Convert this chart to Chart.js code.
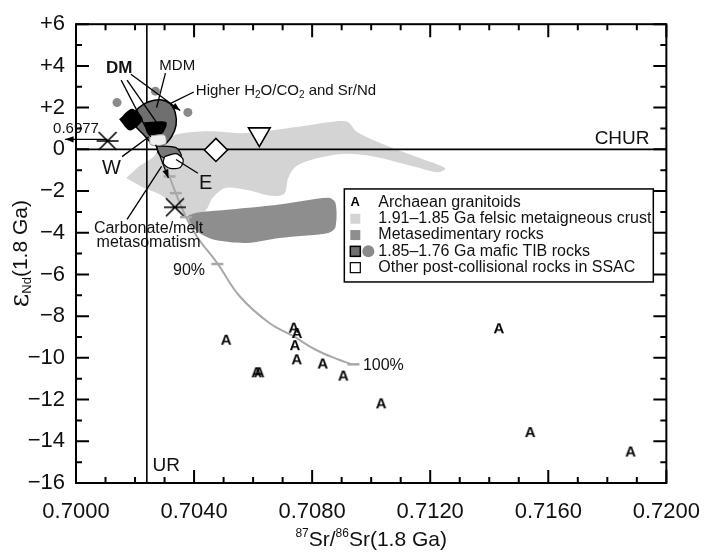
<!DOCTYPE html>
<html>
<head>
<meta charset="utf-8">
<script src="https://cdn.jsdelivr.net/npm/chart.js@4.4.1/dist/chart.umd.min.js"></script>
<style>
html, body { margin: 0; padding: 0; background: #fff; }
</style>
</head>
<body>
<canvas id="myChart" width="716" height="555"></canvas>
<script>
// Axis ticks
let xTicks = [0.7000, 0.7040, 0.7080, 0.7120, 0.7160, 0.7200];
let yTicks = [6, 4, 2, 0, -2, -4, -6, -8, -10, -12, -14, -16];

// Archaean granitoids (A)
let archSr = [0.70509, 0.70738, 0.70749, 0.70742, 0.70748, 0.70612, 0.70621, 0.70836, 0.70906, 0.71034, 0.71433, 0.71539, 0.71879];
let archNd = [-9.13, -8.55, -8.81, -9.39, -10.07, -10.69, -10.69, -10.27, -10.85, -12.18, -8.58, -13.56, -14.49];

// 1.85-1.76 Ga mafic TIB rocks (circles)
let maficSr = [0.70139, 0.70269, 0.70379];
let maficNd = [2.24, 2.79, 1.77];

// crosses, diamond, triangle
let crossSr = [0.70107, 0.70335];
let crossNd = [0.40, -2.78];
let diamondSr = [0.70474];
let diamondNd = [-0.03];
let triSr = [0.70621];
let triNd = [0.73];

// mixing curve and its tick marks
let mixSr = [0.70290, 0.70316, 0.70339, 0.70373, 0.70413, 0.70479, 0.70556, 0.70656, 0.70735, 0.70812, 0.70889, 0.70935];
let mixNd = [-0.26, -1.29, -2.13, -3.26, -4.25, -5.47, -7.07, -8.34, -8.95, -9.61, -10.08, -10.31];
let mixTickSr = [0.70317, 0.70338, 0.70373, 0.70479, 0.70940];
let mixTickNd = [-1.30, -2.10, -3.25, -5.50, -10.31];

// fields
let felsicSr = [0.70170, 0.70213, 0.70263, 0.70296, 0.70346, 0.70446, 0.70579, 0.70745, 0.70879, 0.70922, 0.70952, 0.71062, 0.71178, 0.71251, 0.71228, 0.71145, 0.71012, 0.70912, 0.70812, 0.70745, 0.70719, 0.70706, 0.70662, 0.70579, 0.70506, 0.70463, 0.70439, 0.70396, 0.70353, 0.70319, 0.70280, 0.70230];
let felsicNd = [-1.38, -0.82, -0.35, 0.36, 0.73, 0.87, 0.78, 1.07, 1.34, 1.30, 0.83, 0.12, -0.49, -0.91, -1.10, -0.82, -0.35, -0.21, -0.44, -0.82, -1.38, -2.13, -2.23, -1.95, -1.85, -2.32, -2.93, -3.17, -3.03, -2.51, -2.13, -1.85];
let metasedSr = [0.70379, 0.70413, 0.70523, 0.70689, 0.70855, 0.70879, 0.70879, 0.70855, 0.70689, 0.70579, 0.70469, 0.70413, 0.70386];
let metasedNd = [-3.17, -3.03, -2.89, -2.65, -2.32, -2.56, -3.73, -4.01, -4.25, -4.49, -4.34, -3.97, -3.50];
let tibSr = [0.70190, 0.70213, 0.70246, 0.70286, 0.70319, 0.70336, 0.70339, 0.70323, 0.70296, 0.70263, 0.70230, 0.70190];
let tibNd = [1.63, 2.00, 2.28, 2.38, 2.19, 1.77, 1.16, 0.59, 0.22, 0.22, 0.69, 1.30];
let dm1Sr = [0.70146, 0.70190, 0.70226, 0.70183];
let dm1Nd = [1.44, 1.95, 1.44, 0.90];
let dm2Sr = [0.70230, 0.70306, 0.70290, 0.70246];
let dm2Nd = [1.30, 1.30, 0.73, 0.69];
let tibLowSr = [0.70273, 0.70339, 0.70356, 0.70306, 0.70279];
let tibLowNd = [0.17, 0.08, -0.35, -0.44, -0.20];
let otherSr = [0.70300, 0.70339, 0.70363, 0.70353, 0.70319, 0.70296];
let otherNd = [-0.35, -0.21, -0.49, -0.87, -0.91, -0.68];
let other2Sr = [0.70250, 0.70300, 0.70303, 0.70253];
let other2Nd = [0.64, 0.68, 0.26, 0.22];

// reference lines
let churNd = 0;
let urSr = 0.7024;

const FONT = '"Liberation Sans", Arial, sans-serif';

function pts(xs, ys) {
    return xs.map(function(v, i) { return {x: v, y: ys[i]}; });
}
function loop(xs, ys) {
    let p = pts(xs, ys);
    p.push(p[0]);
    return p;
}

// custom point styles
function makeA() {
    let c = document.createElement('canvas');
    c.width = 18; c.height = 18;
    let g = c.getContext('2d');
    g.font = 'bold 15px ' + FONT;
    g.fillStyle = '#000';
    g.textAlign = 'center';
    g.textBaseline = 'middle';
    g.fillText('A', 9, 10);
    return c;
}
function makeCross() {
    let c = document.createElement('canvas');
    c.width = 24; c.height = 24;
    let g = c.getContext('2d');
    g.strokeStyle = '#000';
    g.lineWidth = 1.6;
    g.beginPath();
    g.moveTo(3, 3); g.lineTo(21, 21);
    g.moveTo(21, 3); g.lineTo(3, 21);
    g.moveTo(1, 12); g.lineTo(23, 12);
    g.stroke();
    return c;
}

function field(xs, ys, color, order, border, bw) {
    return {
        type: 'line', data: loop(xs, ys), backgroundColor: color,
        borderColor: border || color, borderWidth: bw || 0,
        pointRadius: 0, fill: 'shape', tension: 0.3, order: order
    };
}

function rich(ctx, parts, x, y, align) {
    let w = 0;
    parts.forEach(function(p) {
        ctx.font = (p[3] ? 'bold ' : '') + p[1] + 'px ' + (p[4] || FONT);
        w += ctx.measureText(p[0]).width;
    });
    let cx = align === 'center' ? x - w / 2 : x;
    ctx.textAlign = 'left';
    parts.forEach(function(p) {
        ctx.font = (p[3] ? 'bold ' : '') + p[1] + 'px ' + (p[4] || FONT);
        ctx.fillText(p[0], cx, y + p[2]);
        cx += ctx.measureText(p[0]).width;
    });
}

function arrow(ctx, x1, y1, x2, y2, head) {
    ctx.beginPath();
    ctx.moveTo(x1, y1);
    ctx.lineTo(x2, y2);
    ctx.stroke();
    if (head) {
        let a = Math.atan2(y2 - y1, x2 - x1);
        ctx.beginPath();
        ctx.moveTo(x2, y2);
        ctx.lineTo(x2 - 9 * Math.cos(a - 0.35), y2 - 9 * Math.sin(a - 0.35));
        ctx.lineTo(x2 - 9 * Math.cos(a + 0.35), y2 - 9 * Math.sin(a + 0.35));
        ctx.closePath();
        ctx.fill();
    }
}

const decorPlugin = {
    id: 'decor',
    afterDraw: function(chart) {
        const ctx = chart.ctx;
        const xs = chart.scales.x, ys = chart.scales.y;
        const ca = chart.chartArea;
        const X = function(v) { return xs.getPixelForValue(v); };
        const Y = function(v) { return ys.getPixelForValue(v); };
        ctx.save();

        // frame and inward ticks
        ctx.strokeStyle = '#000';
        ctx.lineWidth = 2;
        ctx.strokeRect(ca.left, ca.top, ca.right - ca.left, ca.bottom - ca.top);
        ctx.beginPath();
        for (let i = 0; i <= 20; i++) {
            let px = X(xs.min + i * 0.001);
            let len = i % 4 === 0 ? 13 : 6;
            ctx.moveTo(px, ca.bottom); ctx.lineTo(px, ca.bottom - len);
            ctx.moveTo(px, ca.top); ctx.lineTo(px, ca.top + len);
        }
        for (let v = ys.min; v <= ys.max; v++) {
            let py = Y(v);
            let len = v % 2 === 0 ? 13 : 6;
            ctx.moveTo(ca.left, py); ctx.lineTo(ca.left + len, py);
            ctx.moveTo(ca.right, py); ctx.lineTo(ca.right - len, py);
        }
        ctx.stroke();

        // mixing curve ticks
        ctx.strokeStyle = '#a8a8a8';
        ctx.lineWidth = 2.5;
        mixTickSr.forEach(function(v, i) {
            ctx.beginPath();
            ctx.moveTo(X(v) - 6, Y(mixTickNd[i]));
            ctx.lineTo(X(v) + 6, Y(mixTickNd[i]));
            ctx.stroke();
        });

        // leader lines and arrows
        ctx.strokeStyle = '#000';
        ctx.fillStyle = '#000';
        ctx.lineWidth = 1.3;
        arrow(ctx, X(0.70153), Y(3.32), X(0.70253), Y(0.59), false);
        arrow(ctx, X(0.70173), Y(3.32), X(0.70296), Y(0.83), false);
        arrow(ctx, X(0.70186), Y(3.60), X(0.70353), Y(1.86), true);
        arrow(ctx, X(0.70303), Y(3.65), X(0.70273), Y(2.00), false);
        arrow(ctx, X(0.70399), Y(2.75), X(0.70319), Y(2.19), false);
        arrow(ctx, X(0.70107), Y(0.48), X(0.69963), Y(0.48), true);
        arrow(ctx, X(0.70156), Y(-0.35), X(0.70246), Y(0.59), false);
        arrow(ctx, X(0.70413), Y(-1.15), X(0.70339), Y(-0.49), false);
        arrow(ctx, X(0.70173), Y(-3.36), X(0.70290), Y(-0.82), false);
        arrow(ctx, X(0.70270), Y(0.22), X(0.70313), Y(-1.38), true);

        // text labels
        ctx.fillStyle = '#111';
        ctx.textBaseline = 'middle';
        rich(ctx, [['DM', 17, 0, true]], X(0.70146), Y(3.88), 'center');
        rich(ctx, [['MDM', 15, 0]], X(0.70343), Y(4.02), 'center');
        rich(ctx, [['Higher H', 15, 0], ['2', 10, 4], ['O/CO', 15, 0], ['2', 10, 4], [' and Sr/Nd', 15, 0]], X(0.70406), Y(2.80), 'left');
        rich(ctx, [['0.6977', 15, 0]], X(0.7000), Y(0.97), 'center');
        rich(ctx, [['W', 20, 0]], X(0.70120), Y(-0.91), 'center');
        rich(ctx, [['E', 20, 0]], X(0.70439), Y(-1.62), 'center');
        rich(ctx, [['CHUR', 19, 0]], X(0.71850), Y(0.50), 'center');
        rich(ctx, [['UR', 19, 0]], X(0.70306), Y(-15.16), 'center');
        rich(ctx, [['90%', 16, 0]], X(0.70383), Y(-5.80), 'center');
        rich(ctx, [['100%', 16, 0]], X(0.70972), Y(-10.36), 'left');
        rich(ctx, [['Carbonate/melt', 16, 0]], X(0.70246), Y(-3.78), 'center');
        rich(ctx, [['metasomatism', 16, 0]], X(0.70246), Y(-4.49), 'center');

        // legend box
        let lx = X(0.70909), ly = Y(-1.90);
        let lw = 309, lh = 93;
        ctx.fillStyle = '#fff';
        ctx.fillRect(lx, ly, lw, lh);
        ctx.strokeStyle = '#000';
        ctx.lineWidth = 1.5;
        ctx.strokeRect(lx, ly, lw, lh);
        let rows = ['Archaean granitoids', '1.91\u20131.85 Ga felsic metaigneous crust', 'Metasedimentary rocks',
                    '1.85\u20131.76 Ga mafic TIB rocks', 'Other post-collisional rocks in SSAC'];
        rows.forEach(function(t, i) {
            let ry = ly + 13.5 + i * 16.3;
            let sx = lx + 11;
            if (i === 0) {
                ctx.fillStyle = '#000';
                ctx.font = 'bold 13px ' + FONT;
                ctx.textAlign = 'center';
                ctx.fillText('A', sx, ry);
            } else if (i === 1) {
                ctx.fillStyle = '#d4d4d4';
                ctx.fillRect(sx - 5, ry - 5, 10, 10);
            } else if (i === 2) {
                ctx.fillStyle = '#8e8e8e';
                ctx.fillRect(sx - 5, ry - 5, 10, 10);
            } else if (i === 3) {
                ctx.fillStyle = '#6f6f6f';
                ctx.fillRect(sx - 5, ry - 5, 10, 10);
                ctx.lineWidth = 1.5;
                ctx.strokeRect(sx - 5, ry - 5, 10, 10);
                ctx.fillStyle = '#8a8a8a';
                ctx.beginPath();
                ctx.arc(sx + 13, ry, 6, 0, Math.PI * 2);
                ctx.fill();
            } else {
                ctx.fillStyle = '#fff';
                ctx.fillRect(sx - 5, ry - 5, 10, 10);
                ctx.lineWidth = 1.2;
                ctx.strokeRect(sx - 5, ry - 5, 10, 10);
            }
            ctx.fillStyle = '#111';
            ctx.font = '16px ' + FONT;
            ctx.textAlign = 'left';
            ctx.fillText(t, lx + 34, ry);
        });

        // axis titles
        ctx.fillStyle = '#111';
        ctx.textBaseline = 'alphabetic';
        rich(ctx, [['87', 12, -9], ['Sr/', 21, 0], ['86', 12, -9], ['Sr(1.8 Ga)', 21, 0]], (ca.left + ca.right) / 2, 546, 'center');
        ctx.translate(21, (ca.top + ca.bottom) / 2);
        ctx.rotate(-Math.PI / 2);
        ctx.textBaseline = 'middle';
        rich(ctx, [['\u03b5', 26, 0, false, '"DejaVu Serif", serif'], ['Nd', 13, 6], ['(1.8 Ga)', 21, 0]], 0, 0, 'center');
        ctx.restore();
    }
};

document.addEventListener("DOMContentLoaded", function() {
    let ctx = document.getElementById('myChart').getContext('2d');
    let myChart = new Chart(ctx, {
        type: 'scatter',
        data: {
            datasets: [
                field(felsicSr, felsicNd, '#d4d4d4', 30),
                field(metasedSr, metasedNd, '#8e8e8e', 29),
                {type: 'line', data: pts([0.7, 0.72], [churNd, churNd]), borderColor: '#000', borderWidth: 1.6, pointRadius: 0, order: 28},
                {type: 'line', data: pts([urSr, urSr], [-16, 6]), borderColor: '#000', borderWidth: 1.6, pointRadius: 0, order: 28},
                {type: 'line', data: pts(mixSr, mixNd), borderColor: '#a8a8a8', borderWidth: 2, pointRadius: 0, tension: 0.4, order: 27},
                field(tibSr, tibNd, '#6f6f6f', 26, '#000', 1.5),
                field(dm1Sr, dm1Nd, '#000', 25),
                field(dm2Sr, dm2Nd, '#000', 25),
                field(tibLowSr, tibLowNd, '#777', 24, '#000', 1.2),
                field(otherSr, otherNd, '#fff', 23, '#000', 1.2),
                field(other2Sr, other2Nd, '#eeeeee', 23, '#999', 1),
                {data: pts(maficSr, maficNd), pointStyle: 'circle', pointRadius: 4.5, backgroundColor: '#8a8a8a', borderWidth: 0, order: 10},
                {data: pts(archSr, archNd), pointStyle: makeA(), pointRadius: 7, order: 5},
                {data: pts(crossSr, crossNd), pointStyle: makeCross(), pointRadius: 10, order: 5},
                {data: pts(diamondSr, diamondNd), pointStyle: 'rectRot', pointRadius: 11.5, backgroundColor: '#fff', borderColor: '#000', borderWidth: 1.6, order: 5},
                {data: pts(triSr, triNd), pointStyle: 'triangle', rotation: 180, pointRadius: 12.5, backgroundColor: '#fff', borderColor: '#000', borderWidth: 1.6, order: 5}
            ]
        },
        options: {
            responsive: false,
            animation: false,
            devicePixelRatio: 1,
            layout: { padding: { top: 15, right: 39, left: 0, bottom: 0 } },
            plugins: { legend: { display: false }, tooltip: { enabled: false } },
            scales: {
                x: {
                    type: 'linear', min: 0.7, max: 0.72,
                    afterBuildTicks: function(s) { s.ticks = xTicks.map(function(v) { return {value: v}; }); },
                    afterFit: function(s) { s.height = 72; },
                    grid: { display: false, drawTicks: false },
                    border: { display: false },
                    ticks: {
                        padding: 16, color: '#111', maxRotation: 0, autoSkip: false,
                        font: { family: FONT, size: 22 },
                        callback: function(v) { return v.toFixed(4); }
                    }
                },
                y: {
                    type: 'linear', min: -16, max: 6,
                    afterBuildTicks: function(s) { s.ticks = yTicks.map(function(v) { return {value: v}; }); },
                    afterFit: function(s) { s.width = 76; },
                    grid: { display: false, drawTicks: false },
                    border: { display: false },
                    ticks: {
                        padding: 11, color: '#111', autoSkip: false,
                        font: { family: FONT, size: 22 },
                        callback: function(v) { return v > 0 ? '+' + v : (v < 0 ? '\u2212' + Math.abs(v) : '0'); }
                    }
                }
            }
        },
        plugins: [decorPlugin]
    });
});
</script>
</body>
</html>
